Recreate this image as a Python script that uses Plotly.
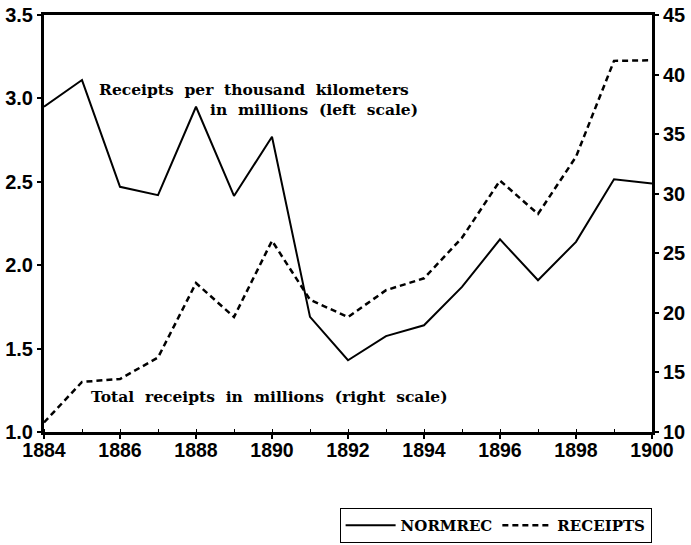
import plotly.graph_objects as go

years = list(range(1884, 1901))
normrec = [2.95, 3.11, 2.47, 2.42, 2.95, 2.415, 2.77, 1.69, 1.43, 1.575, 1.64,
           1.87, 2.155, 1.91, 2.14, 2.515, 2.49]
receipts = [10.8, 14.2, 14.45, 16.25, 22.5, 19.65, 26.05, 21.1, 19.65, 21.9, 22.9,
            26.3, 31.1, 28.3, 33.1, 41.15, 41.2]

left_ticks = [1.0, 1.5, 2.0, 2.5, 3.0, 3.5]
right_ticks = [10, 15, 20, 25, 30, 35, 40, 45]
x_ticks = list(range(1884, 1901, 2))

tick_font = dict(family="Liberation Sans", size=20, color="black", weight="bold")
xtick_font = dict(family="Liberation Sans", size=19.5, color="black", weight="bold")
ann_font = dict(family="DejaVu Serif", size=15.5, color="black", weight="bold")

fig = go.Figure()
fig.add_trace(go.Scatter(x=years, y=normrec, mode="lines", name="NORMREC",
                         line=dict(color="black", width=2), yaxis="y"))
fig.add_trace(go.Scatter(x=years, y=receipts, mode="lines", name="RECEIPTS",
                         line=dict(color="black", width=2.5, dash="6px,4px"), yaxis="y2"))

fig.update_layout(
    width=691, height=545,
    margin=dict(l=44, r=39, t=15, b=113, autoexpand=False),
    paper_bgcolor="white", plot_bgcolor="white",
    showlegend=True,
    legend=dict(orientation="h", xref="container", yref="container",
                x=0.943, xanchor="right", y=0.068, yanchor="top",
                bordercolor="black", borderwidth=1, bgcolor="white",
                font=dict(family="DejaVu Serif", size=15, color="black", weight="bold"),
                itemwidth=50, traceorder="normal"),
    xaxis=dict(range=[1884, 1900], tickvals=x_ticks, ticktext=[str(v) for v in x_ticks],
               showgrid=False, zeroline=False, showline=True, linecolor="black",
               linewidth=3, mirror=True, ticks="outside", ticklen=4, tickwidth=1.5,
               tickcolor="black", tickfont=xtick_font, automargin=False,
               ticklabelstandoff=-5,
               minor=dict(dtick=1, ticks="inside", ticklen=3, tickcolor="black", tickwidth=1)),
    yaxis=dict(range=[1.0, 3.5], tickvals=left_ticks,
               ticktext=[f"{v:.1f}" for v in left_ticks],
               showgrid=False, zeroline=False, showline=True, linecolor="black",
               linewidth=3, mirror=False, ticks="outside", ticklen=4, tickwidth=1.5,
               tickcolor="black", tickfont=tick_font, automargin=False,
               ticklabeloverflow="allow"),
    yaxis2=dict(range=[10, 45], tickvals=right_ticks,
                ticktext=[str(v) for v in right_ticks],
                overlaying="y", side="right",
                showgrid=False, zeroline=False, showline=True, linecolor="black",
                linewidth=3, ticks="outside", ticklen=4, tickwidth=1.5,
                tickcolor="black", tickfont=tick_font, automargin=False,
                ticklabeloverflow="allow"),
)

fig.add_annotation(x=1885.39, y=3.056, xref="x", yref="y", xanchor="left", yanchor="middle",
                   text="Receipts  per  thousand  kilometers", showarrow=False, font=ann_font)
fig.add_annotation(x=1888.32, y=2.936, xref="x", yref="y", xanchor="left", yanchor="middle",
                   text="in  millions  (left  scale)", showarrow=False, font=ann_font)
fig.add_annotation(x=1885.18, y=12.94, xref="x", yref="y2", xanchor="left", yanchor="middle",
                   text="Total  receipts  in  millions  (right  scale)", showarrow=False,
                   font=ann_font)

fig.write_html("out.html", config={"displayModeBar": False},
               post_script="document.body.style.margin='0px';")
